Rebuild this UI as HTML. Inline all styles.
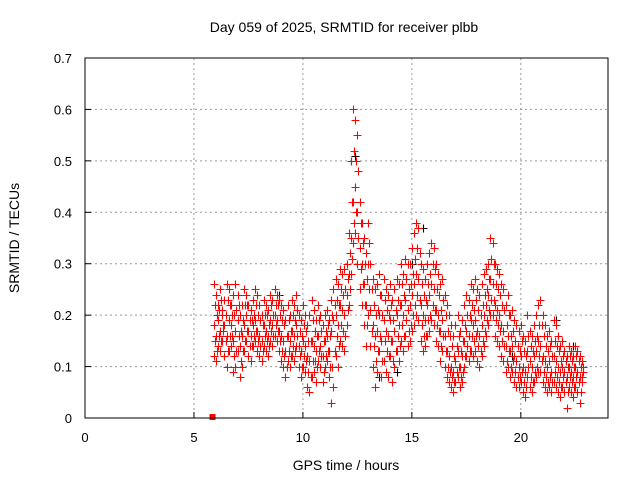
<!DOCTYPE html>
<html><head><meta charset="utf-8"><style>
body{margin:0;background:#fff}
svg{display:block;font-family:"Liberation Sans",sans-serif;font-size:13px}
</style></head><body>
<svg id="c" width="640" height="480">
<text x="344" y="32" text-anchor="middle" font-size="14">Day 059 of 2025, SRMTID for receiver plbb</text>
<text x="346" y="470" text-anchor="middle" font-size="14">GPS time / hours</text>
<text transform="translate(19,238) rotate(-90)" text-anchor="middle" font-size="14">SRMTID / TECUs</text>
<g id="grid"></g><g id="ticks"></g><g id="pts"></g>
<rect x="85" y="58" width="523" height="360" fill="none" stroke="#000" stroke-width="1"/>
</svg>
<script>
const xTicks=[0,5,10,15,20];
const yTicks=[0,0.1,0.2,0.3,0.4,0.5,0.6,0.7];
const yTickLabels=["0","0.1","0.2","0.3","0.4","0.5","0.6","0.7"];
const tStart=5.9, tStep=0.1;
const hi=[.26,.24,.22,.25,.21,.23,.26,.25,.22,.24,.26,.24,.2,.22,.25,.24,.22,.21,.23,.25,.24,.22,.2,.23,.22,.21,.24,.23,.25,.24,.23,.22,.21,.19,.22,.2,.23,.22,.24,.2,.19,.22,.2,.18,.2,.23,.21,.19,.22,.2,.18,.2,.21,.19,.23,.25,.27,.26,.29,.28,.29,.3,.36,.5,.6,.58,.55,.42,.38,.35,.32,.38,.3,.27,.25,.26,.28,.24,.27,.25,.24,.26,.23,.25,.27,.26,.3,.28,.31,.3,.3,.33,.36,.38,.37,.3,.29,.27,.3,.32,.34,.33,.3,.28,.26,.27,.24,.22,.2,.18,.16,.18,.2,.17,.19,.22,.24,.23,.26,.25,.27,.25,.24,.26,.28,.29,.3,.35,.34,.3,.29,.28,.26,.25,.22,.24,.2,.21,.19,.18,.17,.18,.16,.15,.2,.17,.16,.18,.2,.22,.23,.2,.18,.16,.17,.15,.19,.18,.16,.14,.15,.13,.12,.14,.13,.12,.14,.13,.12,.11];
const q1=[.22,.2,.21,.23,.18,.2,.23,.22,.2,.2,.21,.22,.17,.19,.22,.22,.19,.19,.2,.22,.2,.19,.18,.2,.2,.18,.22,.2,.22,.22,.2,.19,.18,.16,.19,.17,.2,.19,.21,.17,.16,.18,.17,.15,.15,.19,.17,.16,.19,.17,.15,.17,.18,.16,.2,.22,.23,.22,.25,.24,.25,.27,.32,.42,.52,.5,.48,.38,.34,.3,.27,.34,.25,.22,.2,.21,.24,.2,.23,.21,.2,.22,.19,.21,.23,.22,.26,.24,.27,.25,.26,.28,.31,.33,.32,.26,.24,.23,.26,.28,.3,.29,.25,.24,.21,.23,.2,.17,.16,.14,.12,.14,.16,.13,.15,.18,.2,.2,.22,.21,.23,.21,.2,.22,.24,.25,.27,.31,.3,.26,.25,.24,.22,.21,.18,.2,.16,.17,.15,.14,.13,.15,.13,.12,.16,.14,.13,.15,.16,.18,.18,.16,.14,.13,.14,.12,.15,.14,.13,.11,.12,.11,.1,.12,.11,.1,.12,.11,.1,.1];
const mid=[.18,.16,.19,.17,.2,.18,.16,.19,.18,.15,.17,.19,.14,.16,.18,.2,.17,.16,.18,.19,.17,.16,.15,.18,.17,.16,.19,.18,.2,.19,.17,.16,.15,.13,.16,.15,.17,.16,.18,.14,.13,.15,.14,.12,.11,.15,.14,.13,.16,.14,.12,.15,.16,.13,.17,.19,.2,.18,.22,.21,.2,.24,.28,.35,.42,.45,.4,.33,.3,.26,.22,.3,.21,.18,.16,.17,.2,.15,.19,.17,.16,.19,.15,.17,.2,.18,.22,.2,.23,.21,.22,.24,.26,.28,.27,.22,.2,.19,.22,.24,.26,.25,.21,.2,.17,.19,.16,.13,.12,.1,.09,.11,.13,.1,.12,.15,.17,.16,.19,.18,.19,.17,.16,.18,.2,.22,.24,.27,.26,.22,.21,.2,.18,.17,.14,.16,.13,.14,.12,.11,.1,.12,.1,.09,.13,.11,.1,.12,.13,.15,.14,.12,.11,.1,.11,.09,.12,.11,.1,.09,.1,.09,.08,.1,.09,.08,.1,.09,.08,.08];
const q3=[.15,.13,.16,.15,.17,.15,.13,.16,.16,.12,.13,.16,.11,.13,.15,.17,.14,.14,.16,.17,.15,.14,.13,.16,.15,.14,.17,.16,.18,.17,.15,.13,.12,.1,.13,.12,.14,.13,.16,.12,.1,.12,.11,.09,.08,.11,.11,.1,.13,.12,.09,.12,.13,.1,.1,.13,.16,.14,.18,.17,.16,.21,.25,.31,.38,.4,.35,.29,.26,.22,.18,.25,.17,.14,.11,.13,.16,.11,.15,.13,.12,.15,.11,.13,.16,.14,.18,.16,.19,.17,.18,.2,.22,.24,.23,.18,.16,.16,.19,.2,.22,.21,.18,.17,.14,.16,.13,.1,.09,.08,.07,.09,.1,.08,.09,.12,.14,.13,.16,.15,.16,.14,.13,.15,.17,.19,.21,.23,.23,.19,.18,.17,.15,.14,.11,.13,.1,.11,.09,.08,.08,.09,.07,.06,.1,.08,.07,.09,.1,.12,.11,.09,.08,.07,.08,.07,.09,.08,.07,.06,.08,.07,.05,.08,.07,.06,.08,.07,.05,.09];
const lo=[.12,.11,.14,.13,.15,.12,.1,.13,.14,.09,.1,.13,.08,.1,.13,.15,.12,.11,.14,.15,.13,.12,.11,.14,.13,.12,.15,.14,.16,.15,.13,.11,.1,.08,.11,.1,.12,.11,.14,.1,.08,.1,.09,.06,.05,.08,.09,.07,.11,.1,.07,.1,.11,.08,.03,.06,.12,.1,.15,.14,.13,.18,.22,.28,.34,.36,.3,.25,.22,.18,.14,.2,.14,.1,.06,.09,.13,.08,.11,.09,.08,.12,.07,.1,.13,.11,.15,.13,.16,.14,.15,.17,.18,.2,.19,.15,.13,.14,.16,.17,.19,.18,.15,.14,.11,.13,.1,.08,.07,.06,.05,.07,.08,.06,.07,.1,.12,.11,.13,.12,.13,.11,.1,.12,.14,.16,.18,.2,.2,.16,.15,.14,.12,.11,.09,.1,.08,.09,.07,.06,.06,.07,.05,.04,.08,.06,.05,.07,.08,.09,.09,.07,.06,.05,.06,.05,.07,.06,.05,.04,.06,.05,.02,.06,.05,.04,.06,.05,.03,.07];
const blackT=[8.9,12.2,12.4,13.5,14.3,15.0,15.5,17.2,18.4,19.6,21.6,22.4];
const blackV=[.24,.5,.51,.08,.09,.3,.37,.06,.29,.12,.19,.14];
const NS='http://www.w3.org/2000/svg';
const X=t=>85+t*(523/24), Y=v=>418-v*(360/0.7);
function mk(tag,a,p){const e=document.createElementNS(NS,tag);for(const k in a)e.setAttribute(k,a[k]);p.appendChild(e);return e;}
const grid=document.getElementById('grid'),ticks=document.getElementById('ticks'),pts=document.getElementById('pts');
xTicks.forEach((t,i)=>{
 if(t>0){const g=mk('line',{x1:X(t),x2:X(t),y1:58,y2:418,stroke:'#999','stroke-dasharray':'2,3'},grid);
 
 }
 const l=mk('text',{x:X(t),y:442,'text-anchor':'middle'},ticks);l.textContent=t;
 
 
 mk('line',{x1:X(t),x2:X(t),y1:418,y2:412,stroke:'#000'},ticks);
});
yTicks.forEach((v,i)=>{
 if(v>0&&v<0.7){const g=mk('line',{x1:85,x2:608,y1:Y(v),y2:Y(v),stroke:'#999','stroke-dasharray':'2,3'},grid);
 
 }
 const l=mk('text',{x:72,y:Y(v)+5,'text-anchor':'end'},ticks);l.textContent=yTickLabels[i];
 
 
 mk('line',{x1:85,x2:91,y1:Y(v),y2:Y(v),stroke:'#000'},ticks);
});
function plus(t,v,c,name){
 const x=Math.round(X(t))+0.5,y=Math.round(Y(v))+0.5;
 const p=mk('path',{d:`M${x-4},${y}H${x+4}M${x},${y-4}V${y+4}`,stroke:c,'stroke-width':1.1,fill:'none'},pts);
 
 
}
blackT.forEach((t,i)=>plus(t,blackV[i],'#000','black-point'));
[hi,mid,lo].forEach(s=>s.forEach((v,i)=>plus(tStart+i*tStep,v,'#f00','red-point')));
[q1,q3].forEach(s=>s.forEach((v,i)=>plus(tStart+0.05+i*tStep,v,'#f00','red-point')));
const sq=mk('rect',{x:X(5.85)-3,y:Y(0)-4,width:6,height:6,fill:'#f00'},pts);


</script>
</body></html>
